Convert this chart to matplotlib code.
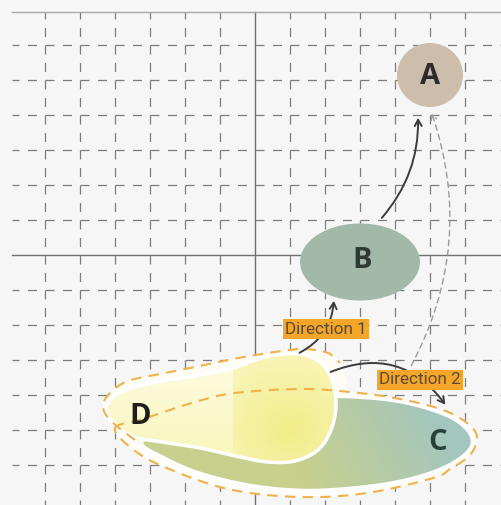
import numpy as np
import matplotlib
matplotlib.use("Agg")
import matplotlib.pyplot as plt
from matplotlib.patches import Ellipse, Polygon, FancyArrowPatch

# ---------------- data (diagram coordinates, y grows downward) ----------------
grid_center = 255
grid_step = 35
grid_index = [-6, -5, -4, -3, -2, -1, 1, 2, 3, 4, 5, 6]
frame_top = 12
frame_left = 12

cluster_names = ["A", "B", "C", "D"]
cluster_label_x = [430, 362, 438, 140]
cluster_label_y = [76, 261, 443, 417]
cluster_label_colors = ["#2b2b2b", "#2f3a35", "#27403b", "#1e1e1e"]

ellipse_names = ["A", "B"]
ellipse_cx = [430, 360]
ellipse_cy = [75, 262]
ellipse_w = [66, 120]
ellipse_h = [64, 77]
ellipse_colors = ["#cdbeac", "#a2b9a9"]

c_outline_x = [115, 140, 152, 195, 235, 300, 350, 400, 443, 467, 477, 470, 450, 433, 367, 300, 228, 162, 130]
c_outline_y = [428, 420, 416, 402, 393, 389, 392, 399, 410, 423, 437, 455, 469, 478, 493, 497, 489, 466, 447]

c_fill_x = [142, 165, 200, 250, 300, 350, 400, 440, 462, 472, 465, 440, 400, 350, 300, 250, 200, 165]
c_fill_y = [443, 430, 417, 405, 398, 397, 402, 413, 425, 440, 454, 469, 481, 488, 490, 485, 473, 458]

d_fill_x = [106, 115, 135, 162, 200, 233, 255, 275, 300, 320, 332, 336, 331, 318, 295, 268, 240, 200, 162, 135, 115]
d_fill_y = [408, 395, 387, 381, 375, 368, 360, 355, 354, 362, 380, 405, 430, 450, 461, 462, 457, 448, 442, 437, 425]
d_seam_x = 233

d_outline_x = [135, 112, 103, 110, 128, 160, 195, 238, 282, 305, 328, 340]
d_outline_y = [440, 422, 407, 393, 381, 374, 367, 358, 351, 349, 353, 363]
d_halo_x = d_outline_x + [348, 340, 250, 150]
d_halo_y = d_outline_y + [392, 430, 440, 445]

# arrows: (x_start, y_start, x_end, y_end, rad)
arrow_names = ["B to A", "Direction 1", "Direction 2"]
arrow_x0 = [380, 297, 328]
arrow_y0 = [220, 354, 373]
arrow_x1 = [418, 334, 447]
arrow_y1 = [115, 298, 407]
arrow_rad = [0.2, 0.3, -0.4]

path_ca_x = [410, 431]
path_ca_y = [368, 111]
path_ca_rad = 0.22

direction_labels = ["Direction 1", "Direction 2"]
direction_x = [326, 420]
direction_y = [329, 380]

W, H = 502, 505

# ---------------- helpers ----------------
def catmull(xs, ys, closed=True, n=24):
    P = np.column_stack([xs, ys]).astype(float)
    N = len(P)
    out = []
    rng = range(N) if closed else range(N - 1)
    for i in rng:
        if closed:
            p0, p1, p2, p3 = P[(i - 1) % N], P[i], P[(i + 1) % N], P[(i + 2) % N]
        else:
            p0 = P[max(i - 1, 0)]
            p1 = P[i]
            p2 = P[i + 1]
            p3 = P[min(i + 2, N - 1)]
        t = np.linspace(0, 1, n, endpoint=False)[:, None]
        seg = 0.5 * ((2 * p1) + (-p0 + p2) * t + (2 * p0 - 5 * p1 + 4 * p2 - p3) * t ** 2
                     + (-p0 + 3 * p1 - 3 * p2 + p3) * t ** 3)
        out.append(seg)
    if not closed:
        out.append(P[-1][None, :])
    return np.vstack(out)

# ---------------- figure ----------------
fig = plt.figure(figsize=(5.02, 5.05), dpi=100)
fig.patch.set_facecolor("#f6f6f6")
ax = fig.add_axes([0, 0, 1, 1])
ax.set_facecolor("#f6f6f6")
ax.set_xlim(0, W)
ax.set_ylim(H, 0)
ax.axis("off")

grid_col = "#7c7c7c"
lw_g = 0.9
dash_g = (1.6, (7.2, 6.8))
for k in grid_index:
    p = grid_center + k * grid_step
    ax.plot([p, p], [frame_top, H], color=grid_col, lw=lw_g, linestyle=dash_g, zorder=1)
    ax.plot([frame_left, W], [p, p], color=grid_col, lw=lw_g, linestyle=dash_g, zorder=1)
ax.plot([grid_center, grid_center], [frame_top, H], color="#707070", lw=1.0, zorder=1)
ax.plot([frame_left, W], [grid_center, grid_center], color="#707070", lw=1.0, zorder=1)
ax.plot([frame_left, W], [frame_top, frame_top], color="#a8a8a8", lw=1.0, zorder=1)

# white halos
c_out = catmull(c_outline_x, c_outline_y)
ax.add_patch(Polygon(c_out, closed=True, facecolor="#fdfdfc", edgecolor="none", zorder=2))
d_halo = catmull(d_halo_x, d_halo_y)
ax.add_patch(Polygon(d_halo, closed=True, facecolor="#fdfdf6", edgecolor="none", zorder=2))

# C fill with gradient
c_in = catmull(c_fill_x, c_fill_y)
ax.add_patch(Polygon(c_in, closed=True, facecolor="none", edgecolor="white", lw=2.0, zorder=3.2))
gx = np.linspace(130, 480, 200)
gy = np.linspace(390, 495, 80)
GX, GY = np.meshgrid(gx, gy)
t = np.clip((GX - 270) / 170 + (420 - GY) / 300, 0, 1)[..., None]
left_c = np.array([200, 208, 142]) / 255
right_c = np.array([163, 198, 190]) / 255
img = left_c * (1 - t) + right_c * t
im = ax.imshow(img, extent=(130, 480, 495, 390), origin="upper", zorder=3, aspect="auto",
               interpolation="bilinear")
clip_c = Polygon(c_in, closed=True, transform=ax.transData, facecolor="none")
ax.add_patch(clip_c)
clip_c.set_visible(False)
im.set_clip_path(clip_c)

# D fill: pale left part, brighter right part (seam), soft gradients
d_in = catmull(d_fill_x, d_fill_y)
dx = np.linspace(100, 340, 240)
dy = np.linspace(345, 470, 125)
DX, DY = np.meshgrid(dx, dy)
dist = np.hypot((DX - 290) * 0.9, DY - 430)
td = (np.clip(dist / 115, 0, 1) ** 0.9)[..., None]
inner = np.array([242, 236, 135]) / 255
outer = np.array([251, 249, 205]) / 255
bright = inner * (1 - td) + outer * td
vy = np.clip((DY - 370) / 80, 0, 1)[..., None]
pale = np.array([253, 251, 222]) / 255 * (1 - vy) + np.array([249, 246, 190]) / 255 * vy
dimg = np.where((DX < d_seam_x)[..., None], pale, bright)
dim = ax.imshow(dimg, extent=(100, 340, 470, 345), origin="upper", zorder=4, aspect="auto",
                interpolation="nearest")
clip_d = Polygon(d_in, closed=True, transform=ax.transData, facecolor="none")
ax.add_patch(clip_d)
clip_d.set_visible(False)
dim.set_clip_path(clip_d)
ax.add_patch(Polygon(d_in, closed=True, facecolor="none", edgecolor="white", lw=2.5, zorder=4.2))

# dashed orange outlines
orange = "#f0b24a"
ax.add_patch(Polygon(c_out, closed=True, facecolor="none", edgecolor=orange, lw=1.5,
                     linestyle=(0, (5, 3.5)), zorder=5))
d_line = catmull(d_outline_x, d_outline_y, closed=False)
ax.plot(d_line[:, 0], d_line[:, 1], color=orange, lw=1.5, linestyle=(0, (5, 3.5)), zorder=5)

# A, B ellipses
for cx, cy, w, h, col in zip(ellipse_cx, ellipse_cy, ellipse_w, ellipse_h, ellipse_colors):
    ax.add_patch(Ellipse((cx, cy), w, h, facecolor=col, edgecolor="none", zorder=3))

# arrows
for x0, y0, x1, y1, r in zip(arrow_x0, arrow_y0, arrow_x1, arrow_y1, arrow_rad):
    ax.add_patch(FancyArrowPatch((x0, y0), (x1, y1), connectionstyle=f"arc3,rad={r}",
                                 arrowstyle="->,head_length=0.45,head_width=0.25",
                                 mutation_scale=10, color="#3c3c3c", lw=1.4, zorder=6))
ax.add_patch(FancyArrowPatch((path_ca_x[0], path_ca_y[0]), (path_ca_x[1], path_ca_y[1]),
                             connectionstyle=f"arc3,rad={path_ca_rad}",
                             arrowstyle="->,head_length=0.35,head_width=0.2",
                             mutation_scale=10, color="#9a9a9a", lw=1.0,
                             linestyle=(0, (4, 3)), zorder=6))

# labels
for name, x, y, col in zip(cluster_names, cluster_label_x, cluster_label_y, cluster_label_colors):
    ax.text(x, y, name, ha="center", va="center", fontsize=21, fontweight="bold",
            family=["Open Sans", "DejaVu Sans"], color=col, zorder=8)

for lab, x, y in zip(direction_labels, direction_x, direction_y):
    ax.text(x, y, lab, ha="center", va="center", fontsize=12.3, family=["Roboto", "DejaVu Sans"],
            color="#5a4a34", zorder=9,
            bbox=dict(boxstyle="square,pad=0.12", facecolor="#f4a62a", edgecolor="none"))

fig.savefig("out.png", dpi=100, facecolor=fig.get_facecolor())
